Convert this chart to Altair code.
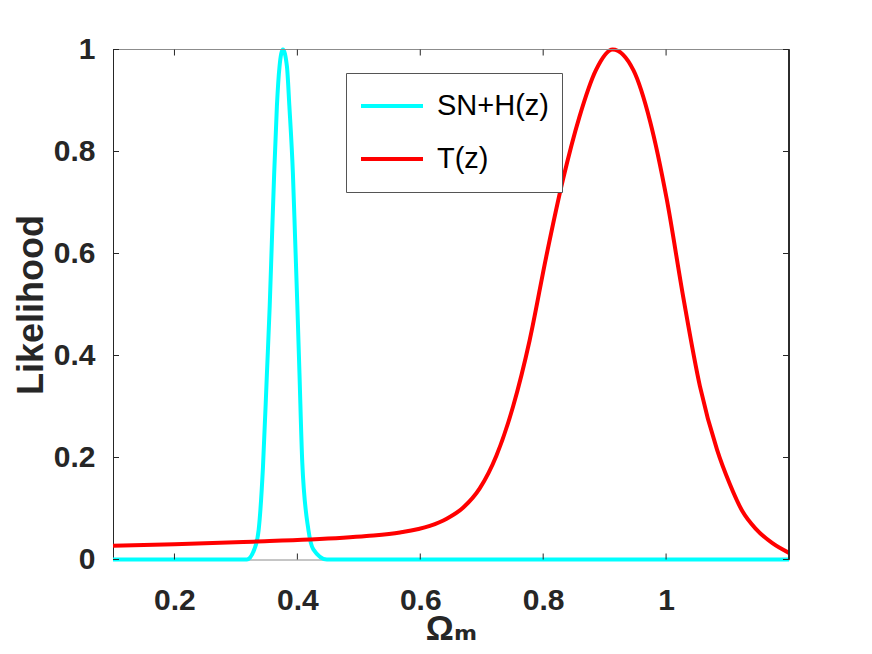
import altair as alt
import pandas as pd

# ---- data ----
series_names = ["SN+H(z)", "T(z)"]
series_colors = ["#00FFFF", "#FF0000"]

omega_sn = [0.10, 0.20, 0.30, 0.318, 0.330, 0.337, 0.344, 0.3505, 0.355, 0.3586,
            0.3623, 0.3667, 0.371, 0.3765, 0.383, 0.387, 0.3927, 0.3964, 0.400,
            0.4034, 0.408, 0.418, 0.426, 0.448, 0.60, 0.80, 1.00, 1.20]
like_sn = [0.0, 0.0, 0.0, 0.0, 0.02, 0.058, 0.18, 0.366, 0.497, 0.627,
           0.758, 0.889, 0.967, 1.0, 0.967, 0.889, 0.758, 0.627, 0.497,
           0.366, 0.19, 0.058, 0.02, 0.0, 0.0, 0.0, 0.0, 0.0]

omega_t = [0.10, 0.20, 0.328, 0.42, 0.5125, 0.567, 0.6156, 0.643, 0.670, 0.697,
           0.724, 0.751, 0.778, 0.805, 0.832, 0.859, 0.886, 0.913, 0.947, 0.974,
           1.001, 1.028, 1.055, 1.083, 1.103, 1.124, 1.146, 1.173, 1.20]
like_t = [0.027, 0.030, 0.035, 0.039, 0.046, 0.053, 0.066, 0.080, 0.102, 0.140,
          0.204, 0.300, 0.430, 0.594, 0.744, 0.868, 0.960, 1.0, 0.959, 0.859,
          0.707, 0.514, 0.340, 0.215, 0.150, 0.095, 0.060, 0.032, 0.013]

x_ticks = [0.2, 0.4, 0.6, 0.8, 1.0]
y_ticks = [0.0, 0.2, 0.4, 0.6, 0.8, 1.0]

# ---- tables ----
curves = pd.concat([
    pd.DataFrame({"omega": omega_sn, "like": like_sn, "series": series_names[0], "order": 0}),
    pd.DataFrame({"omega": omega_t, "like": like_t, "series": series_names[1], "order": 1}),
], ignore_index=True)
xt = pd.DataFrame({"omega": x_ticks})
yt = pd.DataFrame({"like": y_ticks})

W, H = 676, 510
FONT = "Liberation Sans, Arial, DejaVu Sans"
DARK = "#262626"

xscale = alt.Scale(domain=[0.1, 1.2], nice=False, zero=False)
yscale = alt.Scale(domain=[0, 1], nice=False, zero=False)

xaxis = alt.Axis(values=x_ticks, format="~g", title="Ωₘ", grid=False,
                 ticks=False, tickSize=0, labelPadding=50,
                 labelBaseline="alphabetic", labelFont=FONT,
                 labelFontSize=30, labelFontWeight="bold",
                 labelColor=DARK, domainColor="#8c8c8c", domainWidth=1,
                 titleFont=FONT, titleFontSize=35, titleFontWeight="bold",
                 titleColor=DARK, titleX=338, titleY=80,
                 titleBaseline="alphabetic", titleAlign="center")
yaxis = alt.Axis(values=y_ticks, format="~g", title="Likelihood", grid=False,
                 ticks=False, tickSize=0, labelPadding=18,
                 labelFont=FONT, labelFontSize=30, labelFontWeight="bold",
                 labelColor=DARK, domainColor=DARK, domainWidth=1,
                 titleFont=FONT, titleFontSize=36, titleFontWeight="bold",
                 titleColor=DARK, titleX=-71, titleY=255, titleAngle=270,
                 titleBaseline="alphabetic", titleAlign="center")

lines = alt.Chart(curves).mark_line(strokeWidth=4, interpolate="monotone").encode(
    x=alt.X("omega:Q", scale=xscale, axis=xaxis, title="Ωₘ"),
    y=alt.Y("like:Q", scale=yscale, axis=yaxis, title="Likelihood"),
    color=alt.Color("series:N",
                    scale=alt.Scale(domain=series_names, range=series_colors),
                    legend=alt.Legend(orient="none", legendX=233, legendY=23.5,
                                      title=None, direction="vertical",
                                      symbolType="stroke", symbolSize=3844,
                                      symbolStrokeWidth=4, labelFont=FONT,
                                      labelFontSize=29, labelColor="black",
                                      labelOffset=12, strokeColor="#555555",
                                      fillColor="white", padding=13,
                                      clipHeight=40, rowPadding=13)),
    order=alt.Order("order:Q"),
)

# frame (top and right edges)
top_edge = alt.Chart(xt).mark_rule(color="#8c8c8c", strokeWidth=1).encode(
    x=alt.value(0), x2=alt.value(W), y=alt.value(0))
right_edge = alt.Chart(xt).mark_rule(color=DARK, strokeWidth=1).encode(
    x=alt.value(W), y=alt.value(0), y2=alt.value(H))

# inward ticks on all four sides
TL = 6
bottom_ticks = alt.Chart(xt).mark_rule(color=DARK, strokeWidth=1).encode(
    x=alt.X("omega:Q", title="Ωₘ"), y=alt.value(H), y2=alt.value(H - TL))
top_ticks = alt.Chart(xt).mark_rule(color=DARK, strokeWidth=1).encode(
    x=alt.X("omega:Q", title="Ωₘ"), y=alt.value(0), y2=alt.value(TL))
left_ticks = alt.Chart(yt).mark_rule(color=DARK, strokeWidth=1).encode(
    y=alt.Y("like:Q", title="Likelihood"), x=alt.value(0), x2=alt.value(TL))
right_ticks = alt.Chart(yt).mark_rule(color=DARK, strokeWidth=1).encode(
    y=alt.Y("like:Q", title="Likelihood"), x=alt.value(W), x2=alt.value(W - TL))

chart = alt.layer(
    lines, top_edge, right_edge, bottom_ticks, top_ticks, left_ticks, right_ticks
).properties(
    width=W, height=H,
    autosize=alt.AutoSizeParams(type="none"),
    padding={"left": 105, "top": 41.5, "right": 75, "bottom": 86.5},
    background="white",
).configure_view(stroke=None)

chart.save("out.html", embed_options={"renderer": "svg", "actions": False})
